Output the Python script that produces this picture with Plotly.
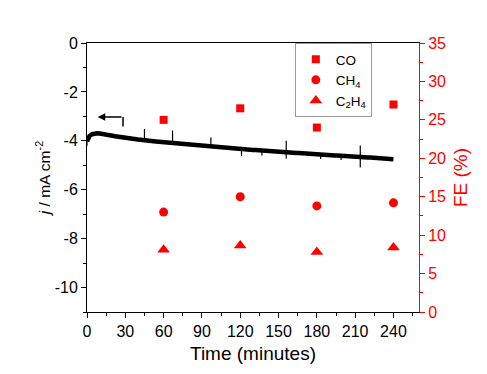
import plotly.graph_objects as go

# ---- data ----
# chronoamperometry trace (2-min grid), mA cm-2
grid_t = list(range(0, 242, 2))
grid_j = [
    -4.02, -3.80, -3.73, -3.70, -3.69, -3.70, -3.71, -3.73, -3.75, -3.77,  # 0-18
    -3.79, -3.81, -3.83, -3.85, -3.86, -3.88, -3.89, -3.91, -3.92, -3.94,  # 20-38
    -3.95, -3.96, -3.98, -3.99, -4.00, -4.01, -4.02, -4.03, -4.04, -4.05,  # 40-58
    -4.06, -4.07, -4.08, -4.09, -4.10, -4.11, -4.12, -4.13, -4.14, -4.15,  # 60-78
    -4.16, -4.17, -4.18, -4.19, -4.20, -4.21, -4.22, -4.23, -4.24, -4.24,  # 80-98
    -4.25, -4.26, -4.27, -4.28, -4.29, -4.30, -4.31, -4.32, -4.32, -4.33,  # 100-118
    -4.34, -4.35, -4.36, -4.36, -4.37, -4.38, -4.38, -4.39, -4.40, -4.40,  # 120-138
    -4.41, -4.42, -4.42, -4.43, -4.44, -4.44, -4.45, -4.45, -4.46, -4.47,  # 140-158
    -4.48, -4.49, -4.50, -4.50, -4.51, -4.52, -4.52, -4.53, -4.54, -4.54,  # 160-178
    -4.55, -4.56, -4.56, -4.57, -4.58, -4.58, -4.59, -4.60, -4.60, -4.61,  # 180-198
    -4.62, -4.62, -4.63, -4.63, -4.64, -4.65, -4.65, -4.66, -4.66, -4.67,  # 200-218
    -4.68, -4.68, -4.69, -4.70, -4.70, -4.71, -4.72, -4.72, -4.73, -4.74,  # 220-238
    -4.75,                                                                 # 240
]
# spikes / glitches in the trace: time, baseline, tip
spike_t = [0, 45, 67, 97, 121, 137, 156, 156, 183, 199, 214, 214]
spike_base = [-4.02, -3.98, -4.09, -4.24, -4.35, -4.40, -4.46, -4.46, -4.57, -4.61, -4.66, -4.66]
spike_tip = [-4.20, -3.52, -3.58, -3.86, -4.62, -4.60, -4.00, -4.72, -4.74, -4.78, -4.19, -5.09]

# Faradaic efficiencies (%)
fe_time = [60, 120, 180, 240]
fe_co = [25.0, 26.5, 24.0, 27.0]
fe_ch4 = [13.0, 15.0, 13.8, 14.2]
fe_c2h4 = [8.1, 8.65, 7.8, 8.4]

x_ticks = [0, 30, 60, 90, 120, 150, 180, 210, 240]
y_ticks = [0, -2, -4, -6, -8, -10]
y_ticktext = ["0", "-2", "-4", "-6", "-8", "-10"]

sx, sy = [], []
for t, b, tip in zip(spike_t, spike_base, spike_tip):
    sx += [t, t, None]
    sy += [b, tip, None]

RED = "#FF0000"
FONT = "Liberation Sans, Arial, sans-serif"

fig = go.Figure()
fig.add_trace(go.Scatter(x=grid_t, y=grid_j, mode="lines",
                         line=dict(color="black", width=4.5),
                         showlegend=False, yaxis="y"))
fig.add_trace(go.Scatter(x=sx, y=sy, mode="lines",
                         line=dict(color="black", width=1.2),
                         showlegend=False, yaxis="y"))
fig.add_trace(go.Scatter(x=fe_time, y=fe_co, mode="markers", name="CO",
                         marker=dict(symbol="square", size=8, color=RED),
                         yaxis="y2"))
fig.add_trace(go.Scatter(x=fe_time, y=fe_ch4, mode="markers", name="CH<sub>4</sub>",
                         marker=dict(symbol="circle", size=9, color=RED),
                         yaxis="y2"))
fig.add_trace(go.Scatter(x=fe_time, y=fe_c2h4, mode="markers", name="C<sub>2</sub>H<sub>4</sub>",
                         marker=dict(symbol="triangle-up", size=11, color=RED),
                         yaxis="y2"))

# arrow pointing to the left axis
arrow_y = -3.03
arrow_x0, arrow_x1 = 28.2, 8.4
fig.add_shape(type="line", x0=arrow_x0, x1=arrow_x0, y0=arrow_y, y1=-3.41,
              xref="x", yref="y", line=dict(color="black", width=1.5))
fig.add_annotation(x=arrow_x1, y=arrow_y, ax=arrow_x0, ay=arrow_y,
                   xref="x", yref="y", axref="x", ayref="y",
                   showarrow=True, arrowhead=2, arrowsize=1, arrowwidth=1.5,
                   arrowcolor="black", text="")

fig.update_layout(
    width=479, height=366,
    margin=dict(l=79, r=68, t=35, b=62, autoexpand=False),
    paper_bgcolor="white", plot_bgcolor="white",
    font=dict(family=FONT, size=16, color="black"),
    xaxis=dict(range=[0, 260], tickvals=x_ticks, ticks="outside", ticklen=5,
               tickwidth=1, tickcolor="black", showline=True, linecolor="black",
               linewidth=1, mirror=True, showgrid=False, zeroline=False,
               automargin=False,
               minor=dict(dtick=15, ticks="outside", ticklen=3, tickcolor="black"),
               title=dict(text="Time (minutes)", standoff=7)),
    yaxis=dict(range=[-11, 0], tickvals=y_ticks, ticktext=y_ticktext,
               ticks="outside", ticklen=5,
               tickcolor="black", showline=True, linecolor="black", linewidth=1,
               showgrid=False, zeroline=False, automargin=False,
               minor=dict(dtick=1, ticks="outside", ticklen=3, tickcolor="black"),
               title=dict(text="<i>j</i> / mA cm<sup>-2</sup>", standoff=0,
                          font=dict(size=15.5))),
    yaxis2=dict(range=[0, 35], tick0=0, dtick=5, overlaying="y", side="right",
                ticks="outside", ticklen=5, tickcolor=RED, showline=True,
                linecolor=RED, linewidth=1, showgrid=False, zeroline=False,
                automargin=False,
                tickfont=dict(color=RED),
                minor=dict(dtick=2.5, ticks="outside", ticklen=3, tickcolor=RED),
                title=dict(text="FE (%)", font=dict(color=RED), standoff=8)),
    legend=dict(x=0.626, y=1.0, xanchor="left", yanchor="top",
                bordercolor="#999999", borderwidth=1, bgcolor="white",
                font=dict(size=13.5), tracegroupgap=0),
)

fig.write_html("out.html")
